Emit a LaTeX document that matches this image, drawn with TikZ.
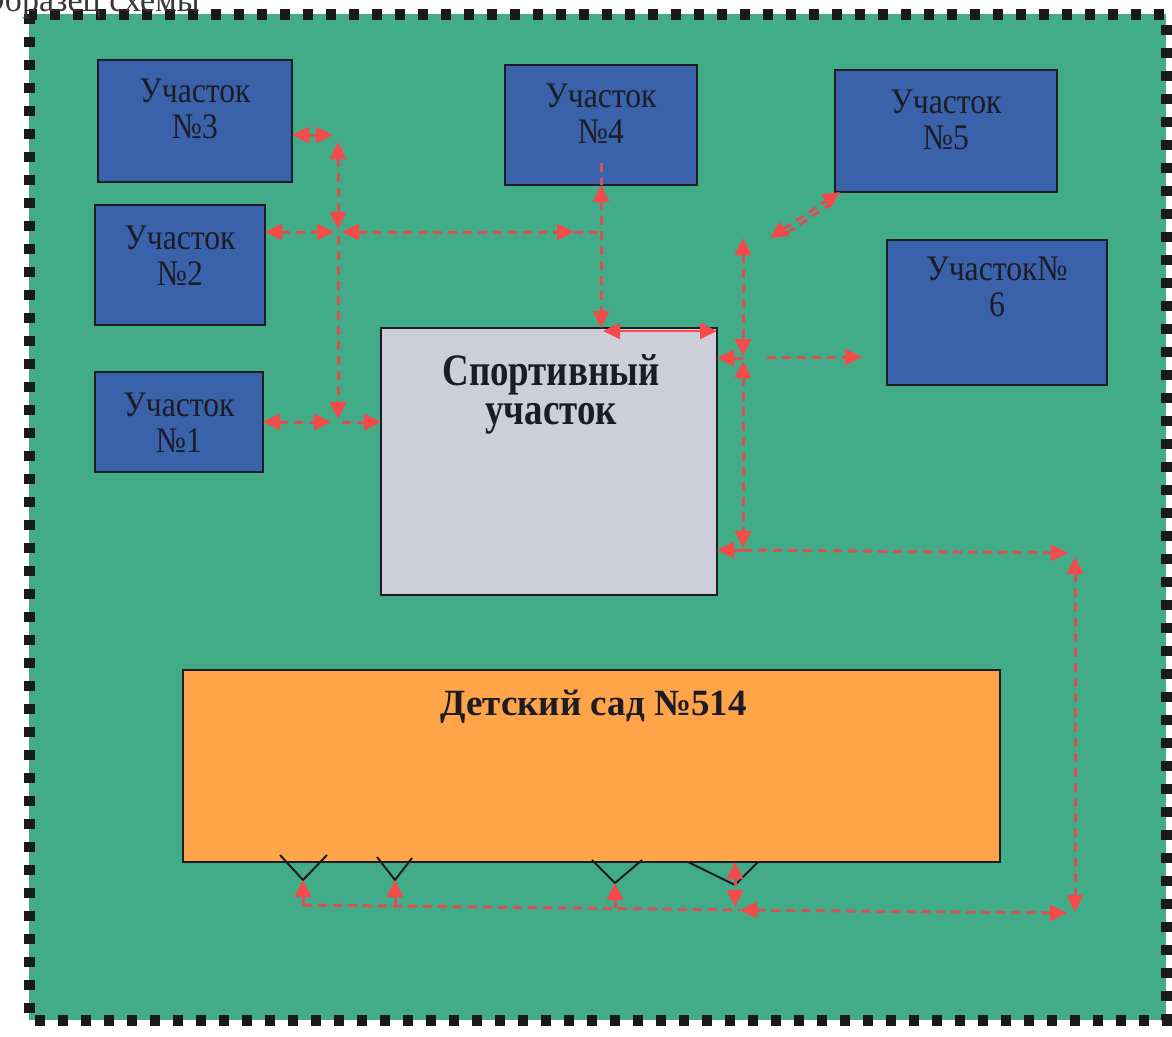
\documentclass[tikz,border=0pt]{standalone}
\usepackage{fontspec}
\setmainfont{Liberation Serif}
\newfontfamily\plotfont[FakeStretch=0.88]{Liberation Serif}
\newfontfamily\sportfont[FakeStretch=0.82]{Liberation Serif}
\usetikzlibrary{arrows.meta}
\definecolor{fieldgreen}{RGB}{66,172,136}
\definecolor{plotblue}{RGB}{58,98,170}
\definecolor{sportgrey}{RGB}{206,206,218}
\definecolor{kgorange}{RGB}{255,164,72}
\definecolor{pathred}{RGB}{214,82,84}
\definecolor{tipred}{RGB}{244,74,74}
\definecolor{inkc}{RGB}{28,28,36}
\definecolor{bordc}{RGB}{25,25,25}
\begin{document}
\begin{tikzpicture}[x=1pt,y=-1pt,
  plot/.style={draw=inkc, line width=1.8pt, fill=plotblue, anchor=north west, inner sep=0pt, outer sep=0pt},
  sportbox/.style={draw=inkc, line width=1.8pt, fill=sportgrey, anchor=north west, inner sep=0pt, outer sep=0pt},
  kgbox/.style={draw=inkc, line width=1.8pt, fill=kgorange, anchor=north west, inner sep=0pt, outer sep=0pt},
  lbl/.style={text=inkc, font=\plotfont\fontsize{36}{38}\selectfont, anchor=base, inner sep=0pt},
  sportlbl/.style={text=inkc, font=\sportfont\bfseries\fontsize{45}{38}\selectfont, anchor=base, inner sep=0pt},
  kglbl/.style={text=inkc, font=\bfseries\fontsize{37}{40}\selectfont, anchor=base, inner sep=0pt},
  conn/.style={draw=pathred, line width=3pt, dash pattern=on 9pt off 6pt,
    >={Triangle[length=17pt,width=16pt,color=tipred]}},
  solidconn/.style={draw=tipred, line width=2.6pt,
    >={Triangle[length=17pt,width=16pt,color=tipred]}},
  vline/.style={draw=inkc, line width=2pt},
  frame/.style={draw=bordc, line width=11pt, dash pattern=on 10pt off 13pt}
]
\useasboundingbox (0,0) rectangle (1172,1036);
\fill[white] (0,0) rectangle (1172,1036);
\fill[fieldgreen] (29,14) rectangle (1166,1020);
\draw[frame] (29,14) rectangle (1166,1020);
\node[anchor=base west, inner sep=0pt, text={rgb,255:red,55;green,55;blue,60}, font=\fontsize{34}{38}\selectfont] (title) at (-20,11) {Образец схемы};

% boxes
\node[plot, minimum width=194pt, minimum height=122pt] (b3) at (98,60) {};
\node[plot, minimum width=170pt, minimum height=120pt] (b2) at (95,205) {};
\node[plot, minimum width=168pt, minimum height=100pt] (b1) at (95,372) {};
\node[plot, minimum width=192pt, minimum height=120pt] (b4) at (505,65) {};
\node[plot, minimum width=222pt, minimum height=122pt] (b5) at (835,70) {};
\node[plot, minimum width=220pt, minimum height=145pt] (b6) at (887,240) {};
\node[sportbox, minimum width=336pt, minimum height=267pt] (sp) at (381,328) {};
\node[kgbox, minimum width=817pt, minimum height=192pt] (kg) at (183,670) {};

% labels
\node[lbl] (t3a) at ([yshift=-42pt]b3.north) {Участок};
\node[lbl] (t3b) at ([yshift=-78pt]b3.north) {№3};
\node[lbl] (t2a) at ([yshift=-44pt]b2.north) {Участок};
\node[lbl] (t2b) at ([yshift=-80pt]b2.north) {№2};
\node[lbl] (t1a) at ([yshift=-44pt]b1.north) {Участок};
\node[lbl] (t1b) at ([yshift=-80pt]b1.north) {№1};
\node[lbl] (t4a) at ([yshift=-42pt]b4.north) {Участок};
\node[lbl] (t4b) at ([yshift=-78pt]b4.north) {№4};
\node[lbl] (t5a) at ([yshift=-43pt]b5.north) {Участок};
\node[lbl] (t5b) at ([yshift=-79pt]b5.north) {№5};
\node[lbl] (t6a) at ([yshift=-40pt]b6.north) {Участок№};
\node[lbl] (t6b) at ([yshift=-76pt]b6.north) {6};
\node[sportlbl] (spa) at ([xshift=2pt,yshift=-57pt]sp.north) {Спортивный};
\node[sportlbl] (spb) at ([xshift=2pt,yshift=-96pt]sp.north) {участок};
\node[kglbl] (kga) at ([xshift=2pt,yshift=-45pt]kg.north) {Детский сад №514};

% left connectors
\coordinate (p3r) at (333,135);
\draw[conn,<->] (b3.east |- p3r) -- (p3r);
\coordinate (vA) at (338,142);
\coordinate (vB) at (338,229);
\draw[conn,<->] (vA) -- (vB);
\coordinate (vC) at (338,236);
\coordinate (vD) at (338,419);
\draw[conn,->] (vC) -- (vD);
\coordinate (h2a) at (334,232);
\draw[conn,<->] (b2.east |- h2a) -- (h2a);
\coordinate (h2b) at (342,232);
\coordinate (h2c) at (574,232);
\draw[conn,<->] (h2b) -- (h2c);
\draw[conn] (h2c) -- (b4.south |- h2c);
\draw[conn] ([yshift=22pt]b4.south) -- (b4.south);
\draw[conn,<->] (b4.south) -- (b4.south |- sp.north);
\coordinate (h1a) at (331,422);
\draw[conn,<->] (b1.east |- h1a) -- (h1a);
\coordinate (h1b) at (342,422);
\draw[conn,->] (h1b) -- (sp.west |- h1b);

% top edge of sports field
\coordinate (st1) at (603,331);
\coordinate (st2) at (717,331);
\draw[solidconn,<->] (st1) -- (st2);

% right connectors
\coordinate (r1) at (743,238);
\coordinate (r2) at (743,356);
\draw[conn,<->] (r1) -- (r2);
\coordinate (r3) at (743,361);
\coordinate (r4) at (743,548);
\draw[conn,<->] (r3) -- (r4);
\coordinate (r5) at (743,358);
\draw[conn,->] (r5) -- (sp.east |- r5);
\coordinate (r6) at (767,357);
\coordinate (r7) at (862,357);
\draw[conn,->] (r6) -- (r7);
\coordinate (d1) at (770,238);
\coordinate (d2) at (840,192);
\draw[conn,<->] (d1) -- (d2);
\coordinate (d3) at (787,233);
\coordinate (d4) at (829,205);
\draw[conn] (d3) -- (d4);
\coordinate (r8) at (743,550);
\draw[conn,->] (r8) -- (sp.east |- r8);
\coordinate (r9) at (1068,553);
\draw[conn,->] (r8) -- (r9);
\coordinate (r10) at (1075,557);
\coordinate (r11) at (1075,912);
\draw[conn,<->] (r10) -- (r11);
\coordinate (r12) at (740,910);
\coordinate (r13) at (1067,913);
\draw[conn,<->] (r12) -- (r13);

% V marks under the kindergarten
\coordinate (v1) at (303,880);
\coordinate (v2) at (395,880);
\coordinate (v3) at (615,883);
\coordinate (v4) at (735,885);
\draw[vline] ([shift={(-23,-25)}]v1) -- (v1) -- ([shift={(24,-25)}]v1);
\draw[vline] ([shift={(-18,-23)}]v2) -- (v2) -- ([shift={(17,-22)}]v2);
\draw[vline] ([shift={(-23,-23)}]v3) -- (v3) -- ([shift={(27,-23)}]v3);
\draw[vline] ([shift={(-47,-23)}]v4) -- (v4) -- ([shift={(23,-23)}]v4);

% bottom connectors
\coordinate (u1) at (303,905);
\coordinate (u2) at (395,906);
\coordinate (u3) at (615,908);
\coordinate (u4) at (735,907);
\draw[conn] (u1) -- (r12);
\draw[conn,->] (u1) -- (v1);
\draw[conn,->] (u2) -- (v2);
\draw[conn,->] (u3) -- (v3);
\draw[conn,<->] (v4 |- kg.south) -- (u4);
\end{tikzpicture}
\end{document}
